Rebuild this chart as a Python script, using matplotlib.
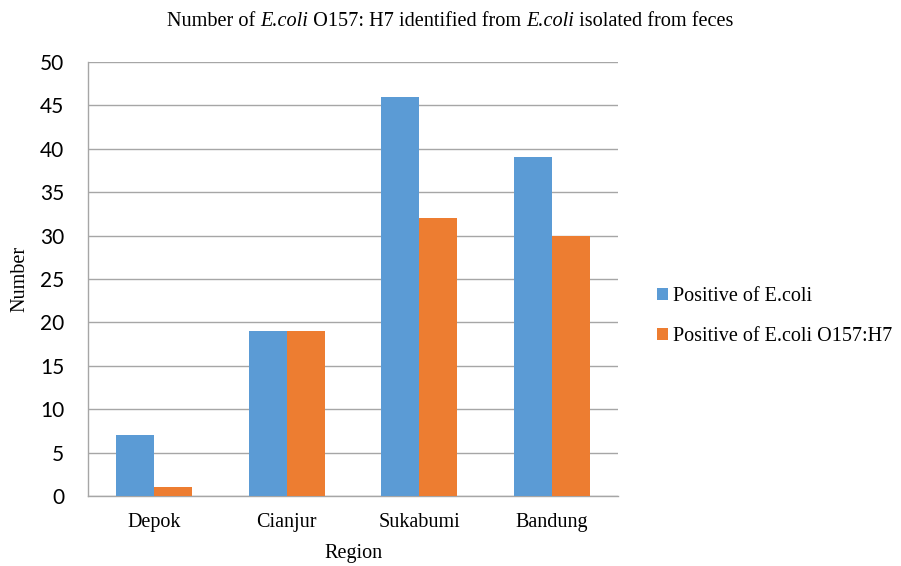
import numpy as np
import matplotlib.pyplot as plt

regions = ['Depok', 'Cianjur', 'Sukabumi', 'Bandung']
ecoli_pos = [7, 19, 46, 39]
o157_pos = [1, 19, 32, 30]
series_names = ['Positive of E.coli', 'Positive of E.coli O157:H7']
yticks = [0, 5, 10, 15, 20, 25, 30, 35, 40, 45, 50]
title_parts = [('Number of ', 'normal'), ('E.coli', 'italic'),
               (' O157: H7 identified from ', 'normal'), ('E.coli', 'italic'),
               (' isolated from feces', 'normal')]

serif = 'Liberation Serif'
sans = 'Lato'
grid_col = '#a6a6a6'

fig = plt.figure(figsize=(9.01, 5.66), dpi=100)
ax = fig.add_axes([0.0977, 0.1237, 0.5883, 0.7668])

x = np.arange(len(regions))
w = 0.287
ax.bar(x - w / 2, ecoli_pos, w, color='#5b9bd5', label=series_names[0], zorder=3)
ax.bar(x + w / 2, o157_pos, w, color='#ed7d31', label=series_names[1], zorder=3)

ax.set_xlim(-0.5, len(regions) - 0.5)
ax.set_ylim(0, 50)
ax.set_yticks(yticks)
ax.set_yticklabels([str(v) for v in yticks], fontfamily=sans, fontsize=15)
ax.set_xticks(x)
ax.set_xticklabels(regions, fontfamily=serif, fontsize=14.5)
ax.tick_params(axis='both', length=0)
ax.tick_params(axis='y', pad=17)
ax.tick_params(axis='x', pad=12)

ax.yaxis.grid(True, color=grid_col, linewidth=1, zorder=0)
for s in ['top', 'right']:
    ax.spines[s].set_visible(False)
for s in ['left', 'bottom']:
    ax.spines[s].set_color(grid_col)
    ax.spines[s].set_linewidth(1)

ax.set_xlabel('Region', fontfamily=serif, fontsize=14.5, labelpad=9)
ax.set_ylabel('Number', fontfamily=serif, fontsize=14.5, labelpad=8)

# title with mixed italic pieces, laid out left to right then centred
renderer = fig.canvas.get_renderer()
pieces = []
for txt, style in title_parts:
    t = fig.text(0, 0.962, txt, ha='left', va='center', fontfamily=serif,
                 fontsize=14.6, fontstyle=style)
    pieces.append(t)
widths = [t.get_window_extent(renderer).width for t in pieces]
total = sum(widths)
xpos = (fig.bbox.width - total) / 2
for t, wd in zip(pieces, widths):
    t.set_x(xpos / fig.bbox.width)
    xpos += wd

ax.legend(loc='center left', bbox_to_anchor=(1.04, 0.413), frameon=False,
          prop={'family': serif, 'size': 14.5}, handlelength=0.55, handleheight=0.55,
          handletextpad=0.2, labelspacing=1.05)

fig.savefig('out.png', dpi=100)
